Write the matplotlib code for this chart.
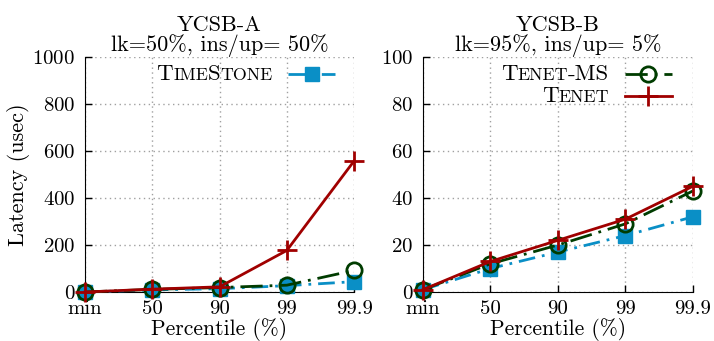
import matplotlib.pyplot as plt
from matplotlib.lines import Line2D
from matplotlib.offsetbox import TextArea, HPacker, VPacker, DrawingArea, AnchoredOffsetbox

plt.rcParams['font.family'] = 'cmr10'
plt.rcParams['axes.formatter.use_mathtext'] = True
plt.rcParams['font.size'] = 15

percentiles = ["min", "50", "90", "99", "99.9"]

# YCSB-A latencies (usec)
a_timestone = [0, 9, 14, 27, 44]
a_tenet_ms = [0, 11, 19, 29, 92]
a_tenet = [0, 12, 22, 177, 558]

# YCSB-B latencies (usec)
b_timestone = [1, 10, 17, 24, 32]
b_tenet_ms = [1, 12, 20, 29, 43]
b_tenet = [1, 13, 22, 31, 45]

CYAN = "#0a8fc6"
GREEN = "#003c00"
RED = "#a00000"

styles = {
    "timestone": dict(color=CYAN, lw=2, marker="s", ms=10, mfc=CYAN, mec=CYAN,
                      dashes=(6, 2.5, 1, 2.5)),
    "tenet_ms": dict(color=GREEN, lw=2, marker="o", ms=11, mfc="none", mec=GREEN,
                     mew=2, dashes=(8, 2.5, 1, 2.5)),
    "tenet": dict(color=RED, lw=2, marker="+", ms=14, mec=RED, mew=2),
}


def smallcaps(word, size=16.5):
    # upper-case letters keep full size, the rest become small capitals
    parts = []
    cur, cur_big = "", None
    for ch in word:
        big = not ch.islower()
        if cur_big is None or big == cur_big:
            cur += ch
        else:
            parts.append((cur, cur_big))
            cur = ch
        cur_big = big
    parts.append((cur, cur_big))
    boxes = [TextArea(t if b else t.upper(),
                      textprops=dict(fontsize=size if b else size * 0.78, family='cmr10'))
             for t, b in parts]
    return HPacker(children=boxes, align="baseline", pad=0, sep=0)


def sample_line(key):
    st = dict(styles[key])
    w = 34
    da = DrawingArea(w, 12, 0, 0)
    line_st = {k: v for k, v in st.items() if k not in ("marker", "ms", "mfc", "mec", "mew")}
    da.add_artist(Line2D([0, w], [6, 6], **line_st))
    mk = dict(marker=st["marker"], ms=st["ms"], mfc=st.get("mfc", RED),
              mec=st["mec"], mew=st.get("mew", 1), ls="none")
    da.add_artist(Line2D([w / 2], [6], **mk))
    return da


def add_legend(ax, entries, anchor):
    rows = [HPacker(children=[smallcaps(name), sample_line(key)],
                    align="center", pad=0, sep=11) for name, key in entries]
    box = VPacker(children=rows, align="right", pad=0, sep=2)
    ab = AnchoredOffsetbox(loc="upper right", child=box, pad=0, borderpad=0,
                           frameon=False, bbox_to_anchor=anchor,
                           bbox_transform=ax.transAxes)
    ax.add_artist(ab)


def setup(ax, ymax, step, title):
    ax.set_xlim(0, len(percentiles) - 1)
    ax.set_ylim(0, ymax)
    ax.set_xticks(range(len(percentiles)))
    ax.set_xticklabels(percentiles)
    ax.set_yticks(range(0, ymax + 1, step))
    ax.grid(True, color="#a0a0a0", ls=(0, (1, 2.5)), lw=1)
    ax.spines["top"].set_visible(False)
    ax.spines["right"].set_visible(False)
    ax.tick_params(direction="in", length=5, width=1, labelsize=15)
    ax.tick_params(axis="x", pad=6)
    ax.tick_params(axis="y", pad=7)
    ax.set_xlabel("Percentile (%)", fontsize=15.5, labelpad=0)
    ax.set_title(title, fontsize=16, linespacing=0.95, pad=4)
    ax.set_axisbelow(True)


fig = plt.figure(figsize=(7.14, 3.41), dpi=100)
ax1 = fig.add_axes([0.119, 0.1437, 0.377, 0.689])
ax2 = fig.add_axes([0.5924, 0.1437, 0.378, 0.689])

x = range(len(percentiles))
for ax, ts, ms, tn in [(ax1, a_timestone, a_tenet_ms, a_tenet),
                       (ax2, b_timestone, b_tenet_ms, b_tenet)]:
    ax.plot(x, ts, clip_on=False, zorder=3, **styles["timestone"])
    ax.plot(x, ms, clip_on=False, zorder=4, **styles["tenet_ms"])
    ax.plot(x, tn, clip_on=False, zorder=5, **styles["tenet"])

setup(ax1, 1000, 200, "YCSB-A\nlk=50%, ins/up= 50%")
setup(ax2, 100, 20, "YCSB-B\nlk=95%, ins/up= 5%")
ax1.set_ylabel("Latency (usec)", fontsize=16, labelpad=2)

add_legend(ax1, [("TimeStone", "timestone")], (0.93, 0.97))
add_legend(ax2, [("Tenet-MS", "tenet_ms"), ("Tenet", "tenet")], (0.922, 0.97))

fig.savefig("out.png", dpi=100)
